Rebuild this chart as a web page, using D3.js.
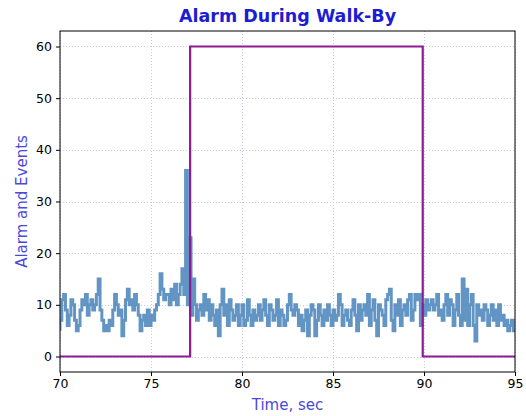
<!DOCTYPE html>
<html><head><meta charset="utf-8">
<script src="https://cdn.jsdelivr.net/npm/d3@7"></script>
<style>body{margin:0;background:#fff;} svg{display:block;font-family:"DejaVu Sans",sans-serif;}</style>
</head><body>
<script>
const title = "Alarm During Walk-By";
const xLabel = "Time, sec";
const yLabel = "Alarm and Events";
const xTicks = [70, 75, 80, 85, 90, 95];
const yTicks = [0, 10, 20, 30, 40, 50, 60];
const eventStart = 70.0;
const eventStep = 0.1;
const eventValues = [
 5, 7, 11, 12, 9, 6, 8, 11, 10, 7,
 5, 6, 9, 11, 10, 12, 8, 10, 11, 9,
 10, 12, 15, 9, 7, 5, 6, 5, 7, 6,
 9, 12, 10, 8, 9, 4, 7, 11, 13, 10,
 11, 9, 12, 10, 8, 5, 7, 8, 6, 9,
 6, 8, 7, 9, 10, 12, 16, 13, 11, 12,
 12, 10, 13, 11, 14, 10, 12, 14, 17, 12,
 36, 10, 23, 8, 15, 10, 7, 9, 10, 8,
 12, 9, 11, 7, 10, 8, 6, 9, 4, 10,
 13, 8, 10, 6, 11, 9, 7, 8, 10, 6,
 8, 10, 6, 7, 11, 8, 6, 9, 7, 8,
 10, 7, 9, 11, 8, 6, 10, 9, 7, 8,
 11, 6, 9, 8, 6, 7, 10, 12, 9, 8,
 10, 9, 6, 8, 5, 7, 9, 4, 8, 10,
 9, 4, 7, 10, 8, 6, 9, 7, 10, 8,
 6, 9, 7, 8, 12, 10, 6, 8, 9, 7,
 6, 9, 11, 8, 5, 10, 7, 9, 10, 8,
 12, 6, 9, 11, 7, 4, 10, 9, 8, 6,
 11, 12, 13, 7, 5, 10, 8, 11, 6, 9,
 10, 8, 11, 12, 7, 9, 12, 11, 12, 6,
 10, 8, 11, 9, 10, 11, 9, 10, 12, 8,
 9, 7, 10, 12, 8, 11, 10, 6, 9, 12,
 8, 6, 15, 7, 13, 6, 10, 12, 6, 3,
 10, 8, 9, 7, 10, 9, 6, 8, 10, 7,
 9, 6, 10, 7, 8, 6, 7, 5, 6, 7,
 5
];
const alarmTimes = [70, 77.15, 77.15, 89.93, 89.93, 95];
const alarmValues = [0, 0, 60, 60, 0, 0];

const W = 526, H = 416;
const m = {left: 60, right: 11, top: 31, bottom: 44};
const svg = d3.select("body").append("svg").attr("width", W).attr("height", H);
const x = d3.scaleLinear().domain([70, 95]).range([m.left, W - m.right]);
const y = d3.scaleLinear().domain([-3, 63]).range([H - m.bottom, m.top]);

svg.append("defs").append("clipPath").attr("id", "clip")
  .append("rect").attr("x", m.left).attr("y", m.top)
  .attr("width", W - m.left - m.right).attr("height", H - m.top - m.bottom);

// grid
const grid = svg.append("g").attr("stroke", "#c8c8ee").attr("stroke-width", 1).attr("stroke-dasharray", "1,2");
grid.selectAll(".gx").data(xTicks).join("line")
  .attr("x1", d => x(d) + 0.5).attr("x2", d => x(d) + 0.5)
  .attr("y1", m.top).attr("y2", H - m.bottom);
grid.selectAll(".gy").data(yTicks).join("line")
  .attr("y1", d => Math.round(y(d)) + 0.5).attr("y2", d => Math.round(y(d)) + 0.5)
  .attr("x1", m.left).attr("x2", W - m.right);

const g = svg.append("g").attr("clip-path", "url(#clip)");
const events = eventValues.map((v, i) => [eventStart + i * eventStep, v]);
g.append("path").datum(events)
  .attr("fill", "none").attr("stroke", "#4683b8").attr("stroke-opacity", 0.85)
  .attr("stroke-width", 3).attr("stroke-linejoin", "miter")
  .attr("d", d3.line().x(d => x(d[0])).y(d => y(d[1])).curve(d3.curveStepBefore));

const alarm = alarmTimes.map((t, i) => [t, alarmValues[i]]);
g.append("path").datum(alarm)
  .attr("fill", "none").attr("stroke", "#8e1a94").attr("stroke-width", 2.2)
  .attr("d", d3.line().x(d => x(d[0])).y(d => y(d[1])));

// axes
const xa = svg.append("g").attr("transform", `translate(0,${H - m.bottom})`)
  .call(d3.axisBottom(x).tickValues(xTicks).tickFormat(d3.format("d")).tickSize(4).tickPadding(3));
const ya = svg.append("g").attr("transform", `translate(${m.left},0)`)
  .call(d3.axisLeft(y).tickValues(yTicks).tickFormat(d3.format("d")).tickSize(4).tickPadding(4));
[xa, ya].forEach(a => {
  a.select(".domain").remove();
  a.selectAll("text").attr("font-size", 12.5).attr("fill", "#000").attr("font-family", "DejaVu Sans");
  a.selectAll("line").attr("stroke", "#000");
});
svg.append("rect").attr("x", m.left).attr("y", m.top)
  .attr("width", W - m.left - m.right).attr("height", H - m.top - m.bottom)
  .attr("fill", "none").attr("stroke", "#000").attr("stroke-width", 1);

svg.append("text").attr("x", (m.left + W - m.right) / 2).attr("y", 22)
  .attr("text-anchor", "middle").attr("font-size", 17.5).attr("font-weight", "bold")
  .attr("fill", "#1c1cd2").text(title);
svg.append("text").attr("x", (m.left + W - m.right) / 2).attr("y", 410)
  .attr("text-anchor", "middle").attr("font-size", 15).attr("fill", "#4a4ad8").text(xLabel);
svg.append("text").attr("transform", `translate(27,${(m.top + H - m.bottom) / 2}) rotate(-90)`)
  .attr("text-anchor", "middle").attr("font-size", 15).attr("fill", "#4a4ad8").text(yLabel);
</script>
</body></html>
